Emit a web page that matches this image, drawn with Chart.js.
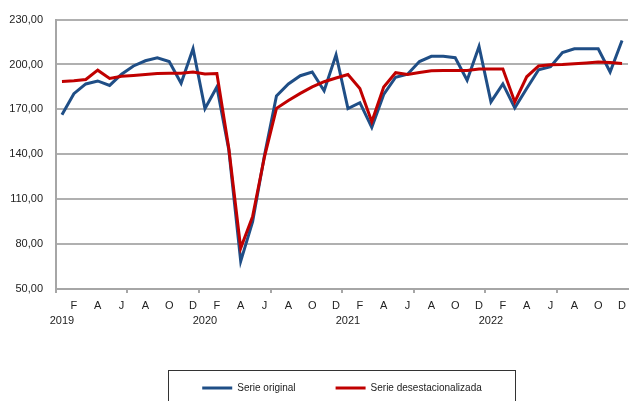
<!DOCTYPE html>
<html>
<head>
<meta charset="utf-8">
<script src="https://cdn.jsdelivr.net/npm/chart.js@4/dist/chart.umd.min.js"></script>
<style>
  html, body { margin: 0; padding: 0; background: #fff; }
  #wrap { width: 635px; height: 401px; }
</style>
</head>
<body>
<div id="wrap"><canvas id="lineChart"></canvas></div>
<script>
// Meses y años del eje X
const years = ['2019', '2020', '2021', '2022'];
const monthLetters = ['E', 'F', 'M', 'A', 'M', 'J', 'J', 'A', 'S', 'O', 'N', 'D'];
const yTicks = [50, 80, 110, 140, 170, 200, 230];

// Serie original (azul)
const serieOriginal = [
    166.5, 180.5, 187, 189, 186, 193.5, 199, 202.5, 204.5, 202, 187.5, 210.5,
    170.5, 185, 143, 68.5, 95, 139.5, 179, 187, 192.5, 195, 182.5, 206.5,
    170.5, 174.5, 158, 180, 191.5, 193.5, 202, 205.5, 205.5, 204.5, 189.5, 212,
    175, 187, 171, 184, 196.5, 198.5, 208, 210.5, 210.5, 210.5, 195, 216
];

// Serie desestacionalizada (roja)
const serieDesest = [
    188.7, 189.1, 190, 196.2, 190.7, 192.2, 192.7, 193.3, 194, 194.2, 194.2, 195,
    193.6, 194, 144, 77.3, 98.5, 138.5, 170.7, 176, 180.7, 185, 188.5, 191,
    193.3, 184, 161.8, 185, 194.5, 193.3, 194.7, 195.8, 196, 196, 196, 197,
    197, 197, 175, 191.8, 199, 199.8, 200, 200.5, 201, 201.6, 201.3, 200.7
];

const labels = [];
years.forEach(y => monthLetters.forEach(m => labels.push(m + '-' + y)));

const fontName = "'Liberation Sans', Arial, sans-serif";

// Marco alrededor de la leyenda
const legendBox = {
    id: 'legendBox',
    afterDraw(chart) {
        const boxes = chart.legend.legendHitBoxes;
        if (!boxes || !boxes.length) return;
        const first = boxes[0];
        const last = boxes[boxes.length - 1];
        const ctx = chart.ctx;
        ctx.save();
        ctx.strokeStyle = '#333';
        ctx.lineWidth = 1;
        const left = Math.round(first.left - 34) + 0.5;
        const right = Math.round(last.left + last.width + 33) + 0.5;
        const top = Math.round(first.top - 13) + 0.5;
        ctx.strokeRect(left, top, right - left, 60);
        ctx.restore();
    }
};

const config = {
    type: 'line',
    data: {
        labels: labels,
        datasets: [
            {
                label: 'Serie original',
                data: serieOriginal,
                borderColor: '#1F4E86',
                backgroundColor: '#1F4E86',
                borderWidth: 3,
                pointRadius: 0,
                tension: 0,
                order: 2
            },
            {
                label: 'Serie desestacionalizada',
                data: serieDesest,
                borderColor: '#C00000',
                backgroundColor: '#C00000',
                borderWidth: 3,
                pointRadius: 0,
                tension: 0,
                order: 1
            }
        ]
    },
    options: {
        responsive: true,
        maintainAspectRatio: false,
        animation: false,
        layout: { padding: { left: 0, right: 7, top: 12, bottom: -2 } },
        plugins: {
            tooltip: { enabled: false },
            legend: {
                position: 'bottom',
                fullSize: false,
                labels: {
                    usePointStyle: true,
                    pointStyle: 'line',
                    pointStyleWidth: 30,
                    padding: 40,
                    color: '#222',
                    font: { family: fontName, size: 10 },
                    sort: (a, b) => a.datasetIndex - b.datasetIndex
                }
            }
        },
        scales: {
            x: {
                offset: true,
                afterFit: (scale) => { scale.height = 54; },
                grid: {
                    offset: true,
                    drawOnChartArea: true,
                    tickLength: 4,
                    lineWidth: 2,
                    color: (c) => c.index === labels.length ? '#a6a6a6' : 'rgba(0,0,0,0)',
                    tickColor: (c) => c.index % 6 === 0 ? '#a6a6a6' : 'rgba(0,0,0,0)'
                },
                border: { color: '#a6a6a6', width: 2 },
                ticks: {
                    autoSkip: false,
                    maxRotation: 0,
                    padding: 6,
                    color: '#222',
                    font: { family: fontName, size: 11, lineHeight: 1.35 },
                    callback: (value, index) => [
                        index % 2 === 1 ? monthLetters[index % 12] : '',
                        index % 12 === 0 ? years[index / 12] : ''
                    ]
                }
            },
            y: {
                min: yTicks[0],
                max: yTicks[yTicks.length - 1],
                afterFit: (scale) => { scale.width = 56; },
                afterBuildTicks: (scale) => { scale.ticks = yTicks.map(v => ({ value: v })); },
                grid: { color: '#b0b0b0', lineWidth: 2, drawTicks: false },
                border: { color: '#a6a6a6', width: 2 },
                ticks: {
                    padding: 13,
                    color: '#222',
                    font: { family: fontName, size: 11 },
                    callback: (v) => v.toFixed(2).replace('.', ',')
                }
            }
        }
    },
    plugins: [legendBox]
};

const ctx = document.getElementById('lineChart').getContext('2d');
new Chart(ctx, config);
</script>
</body>
</html>
